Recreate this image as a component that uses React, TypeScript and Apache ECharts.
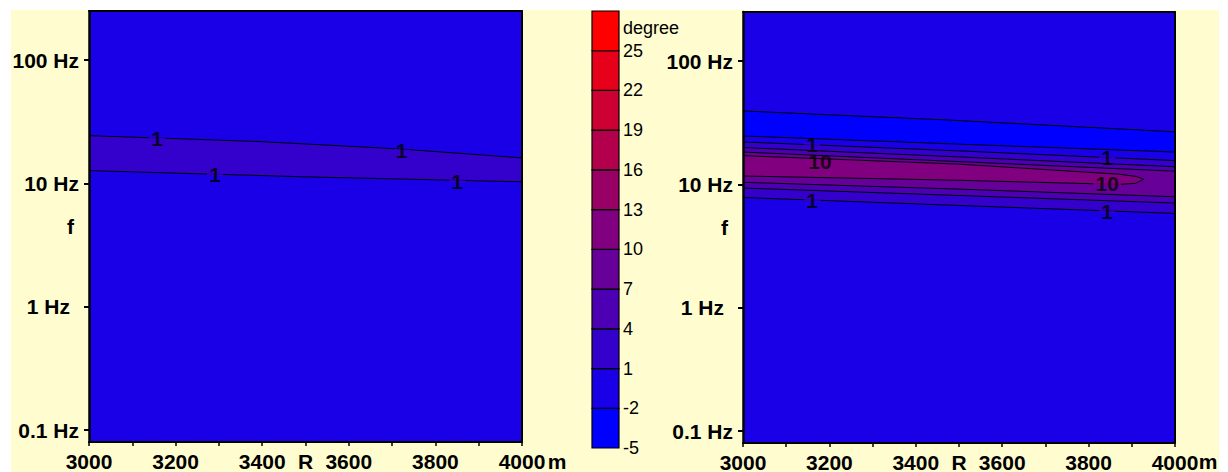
import React, { useEffect, useRef } from 'react';
import * as echarts from 'echarts';

// ---------- data ----------
const R_MIN = 3000;
const R_MAX = 4000;
const R_TICK_STEP = 100;
const R_LABELS = [3000, 3200, 3400, 3600, 3800, 4000];
const F_MIN = 0.08;
const F_MAX = 250;
const F_TICKS = [0.1, 1, 10, 100];
const F_TICK_LABELS = ['0.1 Hz', '1 Hz', '10 Hz', '100 Hz'];

const LEVELS = [-5, -2, 1, 4, 7, 10, 13, 16, 19, 22, 25, 28];
const LEVEL_COLORS = ['#0000FF', '#1A00E6', '#3300CC', '#4D00B3', '#660099', '#800080', '#990066', '#B3004D', '#CC0033', '#E6001A', '#FF0000'];
const LEVEL_LABELS = ['-5', '-2', '1', '4', '7', '10', '13', '16', '19', '22', '25'];
const UNIT_LABEL = 'degree';
const UNIT_LABEL_AT = 26.7;

// left panel contours [R (m), f (Hz)]
const L_C1_UPPER: number[][] = [[3000, 24.4], [3400, 21.8], [3720, 19.0], [4000, 16.1]];
const L_C1_LOWER: number[][] = [[3000, 12.7], [3500, 11.3], [4000, 10.3]];
const L_LABELS = [
  { r: 3157, f: 23.0, text: '1' },
  { r: 3722, f: 18.4, text: '1' },
  { r: 3291, f: 11.8, text: '1' },
  { r: 3850, f: 10.4, text: '1' },
];

// right panel contours
const R_M2_TOP: number[][] = [[3000, 39.4], [3480, 33.2], [4000, 26.7]];
const R_M2_BOT: number[][] = [[3000, 24.7], [3500, 21.2], [4000, 18.3]];
const R_C1_TOP: number[][] = [[3000, 22.1], [3500, 18.7], [4000, 15.6]];
const R_C4_TOP: number[][] = [[3000, 19.9], [3500, 16.7], [4000, 13.9]];
const R_C7_TOP: number[][] = [[3000, 18.3], [3500, 15.3], [4000, 12.8]];
const R_C10_TOP: number[][] = [[3000, 17.1], [3500, 14.6], [3870, 12.1], [3910, 11.6], [3928, 11.0]];
const R_C10_BOT: number[][] = [[3000, 11.7], [3500, 10.8], [3870, 10.0], [3908, 10.2], [3928, 11.0]];
const R_C7_BOT: number[][] = [[3000, 10.4], [3500, 9.16], [4000, 7.94]];
const R_C4_BOT: number[][] = [[3000, 9.35], [3500, 8.13], [4000, 7.06]];
const R_C1_BOT: number[][] = [[3000, 7.83], [3500, 6.75], [4000, 5.82]];
const R_LABELS_ = [
  { r: 3160, f: 21.0, text: '1', mask: 2 },
  { r: 3178, f: 15.3, text: '10', mask: 5 },
  { r: 3843, f: 16.4, text: '1', mask: 2 },
  { r: 3843, f: 10.1, text: '10', mask: 5 },
  { r: 3160, f: 7.40, text: '1', mask: 2 },
  { r: 3843, f: 6.00, text: '1', mask: 2 },
];

// ---------- layout / style ----------
const OX = 11;
const OY = 10;
const W = 1208;
const H = 462;
const FONT = "'Liberation Sans', Arial, Helvetica, sans-serif";
const BG = '#FFFDD0';
const PLOT_BG = LEVEL_COLORS[1];

const lg = (f: number) => Math.log10(f);
const toXY = (pts: number[][]) => pts.map(([r, f]) => [r, lg(f)]);
const band = (upper: number[][], lower: number[][]) => upper.concat(lower.slice().reverse());

const leftPolys = [{ pts: band(L_C1_UPPER, L_C1_LOWER), color: LEVEL_COLORS[2] }];
const rightPolys = [
  { pts: band(R_M2_TOP, R_M2_BOT), color: LEVEL_COLORS[0] },
  { pts: band(R_C1_TOP, R_C1_BOT), color: LEVEL_COLORS[2] },
  { pts: band(R_C4_TOP, R_C4_BOT), color: LEVEL_COLORS[3] },
  { pts: band(R_C7_TOP, R_C7_BOT), color: LEVEL_COLORS[4] },
  { pts: band(R_C10_TOP, R_C10_BOT.slice(0, -1)), color: LEVEL_COLORS[5] },
];
const leftLines = [L_C1_UPPER, L_C1_LOWER];
const rightLines = [R_M2_TOP, R_M2_BOT, R_C1_TOP, R_C4_TOP, R_C7_TOP, R_C10_TOP.concat(R_C10_BOT.slice(0, -1).reverse()), R_C7_BOT, R_C4_BOT, R_C1_BOT];

const tickFont = { color: '#000', fontSize: 21, fontWeight: 'bold' as const, fontFamily: FONT };

function bottomX(gridIndex: number) {
  return {
    type: 'value', gridIndex, min: R_MIN, max: R_MAX, interval: R_TICK_STEP, position: 'bottom', z: 5,
    axisLine: { show: true, onZero: false, lineStyle: { color: '#000', width: 2 } },
    axisTick: { show: true, length: 4, lineStyle: { color: '#000', width: 1.5 } },
    axisLabel: { ...tickFont, lineHeight: 16, margin: 11, formatter: (v: number) => (R_LABELS.includes(Math.round(v)) ? String(Math.round(v)) : '') },
    splitLine: { show: false },
    name: 'R', nameLocation: 'middle', nameGap: 11, nameMoveOverlap: false, nameTextStyle: { ...tickFont, lineHeight: 16, verticalAlign: 'top' },
  };
}
function topX(gridIndex: number) {
  return {
    type: 'value', gridIndex, min: R_MIN, max: R_MAX, position: 'top', z: 5,
    axisLine: { show: true, onZero: false, lineStyle: { color: '#000', width: 2 } },
    axisTick: { show: false }, axisLabel: { show: false }, splitLine: { show: false },
  };
}
function leftY(gridIndex: number) {
  const vals = F_TICKS.map(lg);
  return {
    type: 'value', gridIndex, min: lg(F_MIN), max: lg(F_MAX), position: 'left', z: 5,
    axisLine: { show: true, onZero: false, lineStyle: { color: '#000', width: 2.5 } },
    axisTick: { show: true, length: 5, customValues: vals, lineStyle: { color: '#000', width: 2 } },
    axisLabel: {
      ...tickFont, margin: 10, customValues: vals,
      formatter: (v: number) => {
        const i = vals.findIndex((t) => Math.abs(t - v) < 1e-6);
        if (i < 0) return '';
        return F_TICKS[i] === 1 ? '{pad|' + F_TICK_LABELS[i] + '}' : F_TICK_LABELS[i];
      },
      rich: { pad: { ...tickFont, padding: [0, 9, 0, 0] } },
    },
    splitLine: { show: false },
    name: 'f', nameLocation: 'middle', nameRotate: 0, nameGap: 15, nameMoveOverlap: false, nameTextStyle: tickFont,
  };
}
function rightY(gridIndex: number) {
  return {
    type: 'value', gridIndex, min: lg(F_MIN), max: lg(F_MAX), position: 'right', z: 5,
    axisLine: { show: true, onZero: false, lineStyle: { color: '#000', width: 2 } },
    axisTick: { show: false }, axisLabel: { show: false }, splitLine: { show: false },
  };
}

function polySeries(polys: { pts: number[][]; color: string }[], axis: number) {
  return {
    type: 'custom', xAxisIndex: axis * 2, yAxisIndex: axis * 2, z: 1, silent: true, clip: true,
    data: polys.map((p, i) => [p.pts[0][0], lg(p.pts[0][1]), i]),
    encode: { x: 0, y: 1 },
    renderItem: (params: any, api: any) => {
      const p = polys[params.dataIndex];
      return {
        type: 'polygon',
        shape: { points: toXY(p.pts).map((q) => api.coord(q)) },
        style: { fill: p.color, stroke: null },
      };
    },
  };
}
function lineSeries(lines: number[][][], axis: number) {
  return lines.map((l) => ({
    type: 'line', xAxisIndex: axis * 2, yAxisIndex: axis * 2, z: 3, silent: true,
    data: toXY(l), symbol: 'none', showSymbol: false,
    lineStyle: { color: '#000', width: 1 },
  }));
}
function labelSeries(labels: { r: number; f: number; text: string; mask?: number }[], axis: number) {
  return {
    type: 'scatter', xAxisIndex: axis * 2, yAxisIndex: axis * 2, z: 4, silent: true,
    symbol: 'rect', symbolRotate: -3,
    data: labels.map((l) => ({
      value: [l.r, lg(l.f)],
      symbolSize: [l.text.length * 12 + 4, 3],
      itemStyle: { color: LEVEL_COLORS[l.mask ?? 2] },
      label: { formatter: l.text },
    })),
    label: { show: true, position: 'inside', color: '#000', fontSize: 21, fontWeight: 'bold', lineHeight: 18, fontFamily: FONT },
  };
}

const option: any = {
  animation: false,
  backgroundColor: BG,
  grid: [
    { left: 89 - OX, top: 11 - OY, width: 433, height: 431, show: true, backgroundColor: PLOT_BG, borderWidth: 0, outerBoundsMode: 'none' },
    { left: 743 - OX, top: 12 - OY, width: 432, height: 431, show: true, backgroundColor: PLOT_BG, borderWidth: 0, outerBoundsMode: 'none' },
    { left: 592 - OX, top: 11 - OY, width: 27, height: 437, outerBoundsMode: 'none' },
  ],
  xAxis: [
    bottomX(0), topX(0), bottomX(1), topX(1),
    { type: 'value', gridIndex: 2, min: 0, max: 1, show: false },
  ],
  yAxis: [
    leftY(0), rightY(0), leftY(1), rightY(1),
    {
      type: 'value', gridIndex: 2, min: LEVELS[0], max: LEVELS[LEVELS.length - 1], position: 'right',
      axisLine: { show: false }, axisTick: { show: false }, splitLine: { show: false },
      axisLabel: {
        color: '#000', fontSize: 18, lineHeight: 16, fontFamily: FONT, margin: 4,
        customValues: LEVELS.slice(0, LEVEL_LABELS.length).concat([UNIT_LABEL_AT]),
        formatter: (v: number) => {
          if (Math.abs(v - UNIT_LABEL_AT) < 1e-6) return UNIT_LABEL;
          const i = LEVELS.findIndex((t) => Math.abs(t - v) < 1e-6);
          return i >= 0 && i < LEVEL_LABELS.length ? LEVEL_LABELS[i] : '';
        },
      },
    },
  ],
  series: [
    polySeries(leftPolys, 0),
    ...lineSeries(leftLines, 0),
    labelSeries(L_LABELS, 0),
    polySeries(rightPolys, 1),
    ...lineSeries(rightLines, 1),
    labelSeries(R_LABELS_, 1),
    {
      type: 'custom', xAxisIndex: 4, yAxisIndex: 4, silent: true,
      data: LEVEL_COLORS.map((c, i) => [0, LEVELS[i], LEVELS[i + 1], i]),
      encode: { x: 0, y: [1, 2] },
      renderItem: (params: any, api: any) => {
        const lo = api.value(1);
        const hi = api.value(2);
        const i = api.value(3);
        const p0 = api.coord([0, hi]);
        const p1 = api.coord([1, lo]);
        return {
          type: 'rect',
          shape: { x: p0[0], y: p0[1], width: p1[0] - p0[0], height: p1[1] - p0[1] },
          style: { fill: LEVEL_COLORS[i], stroke: '#000', lineWidth: 1.2 },
        };
      },
    },
  ],
  graphic: [
    { type: 'text', x: 557 - OX, y: 461 - OY, style: { text: 'm', fill: '#000', fontSize: 21, lineHeight: 16, fontWeight: 'bold', fontFamily: FONT, align: 'center', verticalAlign: 'middle' } },
    { type: 'text', x: 1208 - OX, y: 461 - OY, style: { text: 'm', fill: '#000', fontSize: 21, lineHeight: 16, fontWeight: 'bold', fontFamily: FONT, align: 'center', verticalAlign: 'middle' } },
  ],
};

export default function App() {
  const ref = useRef<HTMLDivElement>(null);
  useEffect(() => {
    if (!ref.current) return;
    const chart = echarts.init(ref.current, null, { renderer: 'svg' });
    chart.setOption(option);
    return () => chart.dispose();
  }, []);
  return <div ref={ref} style={{ position: 'absolute', left: OX, top: OY, width: W, height: H }} />;
}
